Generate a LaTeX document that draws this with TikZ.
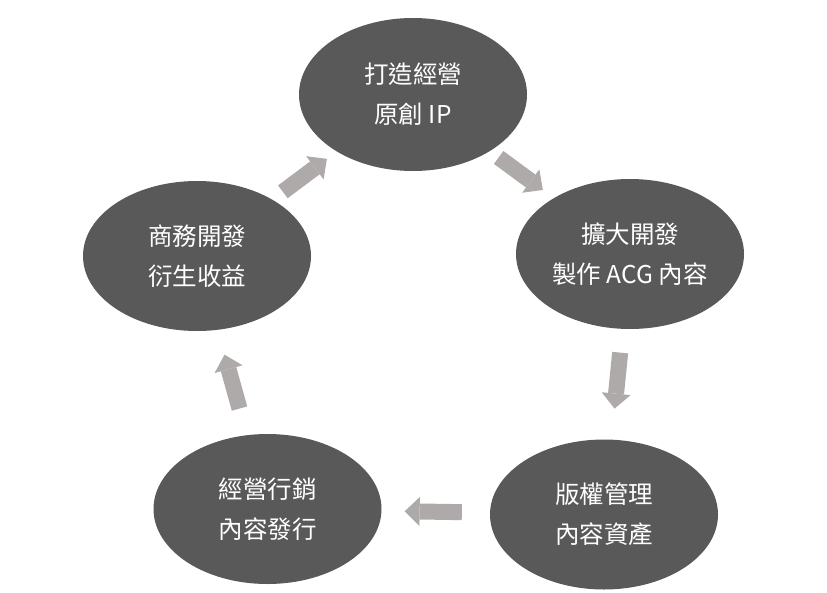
\documentclass[tikz,border=0pt]{standalone}
\usepackage{fontspec}
\usepackage{xcolor}
\usepackage{tikz}
\usetikzlibrary{shapes.geometric,arrows.meta}
\newfontfamily\cjk{Noto Sans CJK TC}
\definecolor{stagegray}{HTML}{595959}
\definecolor{flowgray}{HTML}{ADAAA9}

\begin{document}
\begin{tikzpicture}[x=1pt,y=-1pt,
  stage/.style={ellipse, fill=stagegray, text=white, inner sep=0pt, align=center,
    minimum width=228pt, minimum height=150pt, font=\cjk\fontsize{24.5}{40}\selectfont},
  flow/.style={draw=flowgray, line width=16pt, -{Triangle[width=29pt,length=15pt,line width=0pt]}}]
\fill[white] (0,0) rectangle (827,592);
\useasboundingbox (0,0) rectangle (827,592);
% Stages
\node[stage, minimum height=153pt] (u) at (413,94.5) {打造經營\\原創 IP};
\node[stage] (r) at (630,254) {擴大開發\\製作 ACG 內容};
\node[stage] (dr) at (604,514.5) {版權管理\\內容資產};
\node[stage] (dl) at (267.5,509) {經營行銷\\內容發行};
\node[stage] (l) at (197,256) {商務開發\\衍生收益};
% Arrows
\draw[flow, shorten <=10.7pt, shorten >=13.6pt] (u) -- (r);
\draw[flow, shorten <=23.7pt, shorten >=31pt] (r) -- (dr);
\draw[flow, shorten <=28pt, shorten >=23pt] (dr) -- (dl);
\draw[flow, shorten <=27.5pt, shorten >=25.7pt] (dl) -- (l);
\draw[flow, shorten <=13pt, shorten >=12.2pt] (l) -- (u);
\end{tikzpicture}
\end{document}
